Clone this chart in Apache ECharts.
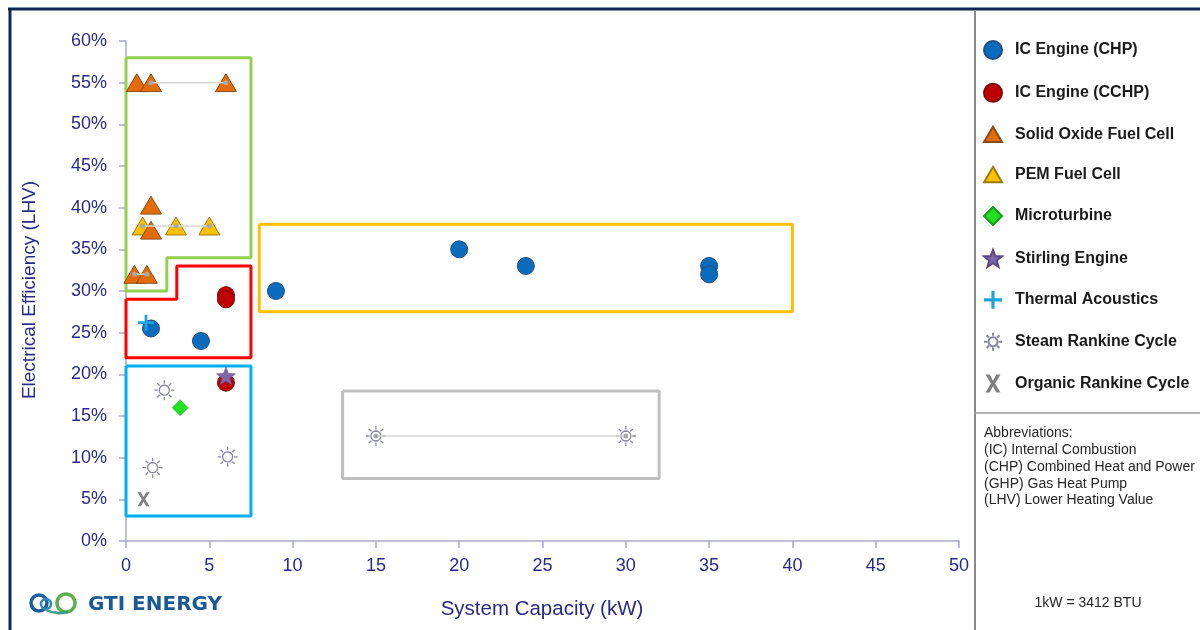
<!DOCTYPE html>
<html>
<head>
<meta charset="utf-8">
<script src="https://cdn.jsdelivr.net/npm/echarts@6/dist/echarts.min.js"></script>
<style>
html,body{margin:0;padding:0;background:#fff;}
#chart{width:1200px;height:630px;}
</style>
</head>
<body>
<div id="chart"></div>
<script>
// ---------- DATA ----------
const legendNames = ['IC Engine (CHP)','IC Engine (CCHP)','Solid Oxide Fuel Cell','PEM Fuel Cell','Microturbine','Stirling Engine','Thermal Acoustics','Steam Rankine Cycle','Organic Rankine Cycle'];
const xTicks = [0,5,10,15,20,25,30,35,40,45,50];
const yTicks = [0,5,10,15,20,25,30,35,40,45,50,55,60];

const icChp = [[1.5,25.5],[4.5,24],[9,30],[20,35],[24,33],[35,33],[35,32]];
const icCchp = [[6,29.5],[6,29],[6,19]];
const sofc = [[0.65,55],[1.5,55],[6,55],[1.5,40.3],[1.5,37.3],[0.5,32],[1.25,32]];
const pem = [[1,37.8],[3,37.8],[5,37.8]];
const microturbine = [[3.25,16]];
const stirling = [[6,19.8]];
const thermalAcoustics = [[1.2,26.2]];
const steamRankine = [[2.3,18.1],[1.6,8.8],[6.1,10.1],[15,12.6],[30,12.6]];
const organicRankine = [[1.05,5]];

// range lines (same technology, several sizes)
const rangeSofc55 = [[1.5,55],[6,55]];
const rangePem = [[1,37.8],[3,37.8],[5,37.8]];
const rangeSofc32 = [[0.5,32],[1.25,32]];
const rangeSteam = [[15,12.6],[30,12.6]];

// grouping boxes (in data units)
const boxGreen = [[0,58],[7.5,58],[7.5,34],[2.45,34],[2.45,30],[0,30],[0,58]];
const boxRed = [[0,29],[3.05,29],[3.05,33],[7.5,33],[7.5,22],[0,22],[0,29]];
const boxCyan = [[0,21],[7.5,21],[7.5,3],[0,3],[0,21]];
const boxGold = [[8,38],[40,38],[40,27.5],[8,27.5],[8,38]];
const boxGray = [[13,18],[32,18],[32,7.5],[13,7.5],[13,18]];

const abbreviations = ['Abbreviations:','(IC) Internal Combustion','(CHP) Combined Heat and Power','(GHP) Gas Heat Pump','(LHV) Lower Heating Value'];

// ---------- SYMBOLS ----------
function starPath(){
  let d='';
  for(let i=0;i<10;i++){
    const r = i%2===0?10:4.2;
    const a = -Math.PI/2 + i*Math.PI/5;
    d += (i===0?'M':'L') + (10+r*Math.cos(a)).toFixed(2)+','+(10+r*Math.sin(a)).toFixed(2)+' ';
  }
  return 'path://'+d+'Z';
}
function sunPath(){
  let d='';
  for(let i=0;i<20;i++){
    const a=i*2*Math.PI/20;
    d += (i===0?'M':'L') + (10+5*Math.cos(a)).toFixed(2)+','+(10+5*Math.sin(a)).toFixed(2)+' ';
  }
  d+='Z ';
  for(let i=0;i<8;i++){
    const a=i*Math.PI/4;
    d += 'M'+(10+6.5*Math.cos(a)).toFixed(2)+','+(10+6.5*Math.sin(a)).toFixed(2)+' L'+(10+10*Math.cos(a)).toFixed(2)+','+(10+10*Math.sin(a)).toFixed(2)+' ';
  }
  return 'path://'+d;
}
const triPath = 'path://M10,0 L20,17 L0,17 Z';
const plusPath = 'path://M6.6,0 L9.4,0 L9.4,6.6 L16,6.6 L16,9.4 L9.4,9.4 L9.4,16 L6.6,16 L6.6,9.4 L0,9.4 L0,6.6 L6.6,6.6 Z';
const xPath = 'path://M0,0 L2.8,0 L5,4.1 L7.2,0 L10,0 L6.4,6 L10,12 L7.2,12 L5,7.9 L2.8,12 L0,12 L3.6,6 Z';
const STAR = starPath(), SUN = sunPath();

const navy = '#2a2a86';
const axisCol = '#a9a9c6';

function boxSeries(data,color){
  return {type:'line',data:data,symbol:'none',silent:true,clip:false,z:1,
    lineStyle:{color:color,width:3},animation:false};
}
function rangeSeries(data){
  return {type:'line',data:data,symbol:'circle',symbolSize:5,silent:true,clip:false,z:5,
    lineStyle:{color:'#d6d6d6',width:1.5},itemStyle:{color:'#a8a8a8',borderWidth:0,opacity:1},animation:false};
}
function sc(name,data,symbol,size,style,z,keep){
  style.opacity = 1;
  return {name:name,type:'scatter',data:data,symbol:symbol,symbolSize:size,symbolKeepAspect:!!keep,
    z:z||3,itemStyle:style,emphasis:{disabled:true}};
}

const chart = echarts.init(document.getElementById('chart'));
chart.setOption({
  animation:false,
  backgroundColor:'#ffffff',
  grid:{left:126,right:241,top:41,bottom:89},
  xAxis:{type:'value',min:0,max:50,interval:5,
    axisLine:{show:true,lineStyle:{color:axisCol,width:1.5}},
    axisTick:{show:true,length:7,lineStyle:{color:axisCol,width:1.5}},
    axisLabel:{color:navy,fontSize:18,fontFamily:'Liberation Sans, Arial, sans-serif',margin:16},
    splitLine:{show:false}},
  yAxis:{type:'value',min:0,max:60,interval:5,
    axisLine:{show:true,onZero:false,lineStyle:{color:axisCol,width:1.5}},
    axisTick:{show:true,length:7,lineStyle:{color:axisCol,width:1.5}},
    axisLabel:{color:navy,fontSize:18,fontFamily:'Liberation Sans, Arial, sans-serif',margin:19,formatter:'{value}%'},
    splitLine:{show:false}},
  legend:{
    orient:'vertical',left:978,top:35,itemWidth:18,itemHeight:18,itemGap:22.85,
    selectedMode:false,
    textStyle:{color:'#1a1a1a',fontSize:16,fontWeight:'bold',fontFamily:'Liberation Sans, Arial, sans-serif',padding:[0,0,0,8]},
    data:[
      {name:legendNames[0],icon:'circle'},
      {name:legendNames[1],icon:'circle'},
      {name:legendNames[2],icon:triPath},
      {name:legendNames[3],icon:triPath},
      {name:legendNames[4],icon:'diamond'},
      {name:legendNames[5],icon:STAR},
      {name:legendNames[6],icon:plusPath},
      {name:legendNames[7],icon:SUN},
      {name:legendNames[8],icon:xPath}
    ]
  },
  series:[
    boxSeries(boxGreen,'#92d050'),
    boxSeries(boxRed,'#ff0000'),
    boxSeries(boxCyan,'#00b0f0'),
    boxSeries(boxGold,'#ffc000'),
    boxSeries(boxGray,'#bfbfbf'),
    sc(legendNames[3],pem,triPath,21,{color:'#ffc000',borderColor:'#9c7a10',borderWidth:1},3,true),
    sc(legendNames[2],sofc,triPath,21,{color:'#e36c0a',borderColor:'#8a4a14',borderWidth:1},3,true),
    sc(legendNames[0],icChp,'circle',17,{color:'#0b6cbd',borderColor:'#1f4f80',borderWidth:1},3),
    sc(legendNames[1],icCchp,'circle',17,{color:'#c00000',borderColor:'#7a0a0a',borderWidth:1},3),
    sc(legendNames[4],microturbine,'diamond',16,{color:'#22e022',borderColor:'#1a9a1a',borderWidth:0.5},3),
    sc(legendNames[5],stirling,STAR,19,{color:'#7c65a8',borderColor:'#5a4a80',borderWidth:0.5},4,true),
    sc(legendNames[6],thermalAcoustics,plusPath,16,{color:'#1ea2dc'},4),
    sc(legendNames[7],steamRankine,SUN,20,{color:'#ffffff',borderColor:'#85859e',borderWidth:1.3},3),
    sc(legendNames[8],organicRankine,xPath,[12,14],{color:'#808080'},3),
    rangeSeries(rangeSofc55),
    rangeSeries(rangePem),
    rangeSeries(rangeSofc32),
    rangeSeries(rangeSteam)
  ],
  graphic:[
    {type:'line',shape:{x1:8,y1:9,x2:1200,y2:9},style:{stroke:'#0f2557',lineWidth:3},silent:true},
    {type:'line',shape:{x1:10,y1:8,x2:10,y2:630},style:{stroke:'#0f2557',lineWidth:3},silent:true},
    {type:'line',shape:{x1:975,y1:10,x2:975,y2:630},style:{stroke:'#8a8a8a',lineWidth:2},silent:true},
    {type:'line',shape:{x1:975,y1:413,x2:1200,y2:413},style:{stroke:'#9a9a9a',lineWidth:1.5},silent:true},
    {type:'text',x:30,y:290,rotation:Math.PI/2,silent:true,
      style:{text:'Electrical Efficiency (LHV)',fill:navy,fontSize:19,fontFamily:'Liberation Sans, Arial, sans-serif',textAlign:'center',textVerticalAlign:'middle'}},
    {type:'text',x:542,y:609,silent:true,
      style:{text:'System Capacity (kW)',fill:navy,fontSize:20.5,fontFamily:'Liberation Sans, Arial, sans-serif',textAlign:'center',textVerticalAlign:'middle'}},
    {type:'text',x:984,y:425,silent:true,
      style:{text:abbreviations.join('\n'),fill:'#262626',fontSize:14,lineHeight:16.8,fontFamily:'Liberation Sans, Arial, sans-serif',textAlign:'left',textVerticalAlign:'top'}},
    {type:'text',x:1088,y:603,silent:true,
      style:{text:'1kW = 3412 BTU',fill:'#262626',fontSize:14,fontFamily:'Liberation Sans, Arial, sans-serif',textAlign:'center',textVerticalAlign:'middle'}},
    // logo
    {type:'circle',shape:{cx:39,cy:603,r:8},style:{fill:'none',stroke:'#1d5f9e',lineWidth:3.5},silent:true},
    {type:'circle',shape:{cx:46,cy:604,r:5},style:{fill:'none',stroke:'#2a8ab8',lineWidth:2.5},silent:true},
    {type:'circle',shape:{cx:66,cy:603,r:9},style:{fill:'none',stroke:'#5bb04c',lineWidth:3.5},silent:true},
    {type:'bezierCurve',shape:{x1:46,y1:610,x2:68,y2:612,cpx1:54,cpy1:614,cpx2:60,cpy2:614},style:{stroke:'#3c9a8c',lineWidth:2.5,fill:'none'},silent:true},
    {type:'text',x:88,y:605,silent:true,
      style:{text:'GTI ENERGY',fill:'#1c5a96',fontSize:20,fontWeight:'bold',fontFamily:'DejaVu Sans, sans-serif',textAlign:'left',textVerticalAlign:'middle'}}
  ]
});
</script>
</body>
</html>
